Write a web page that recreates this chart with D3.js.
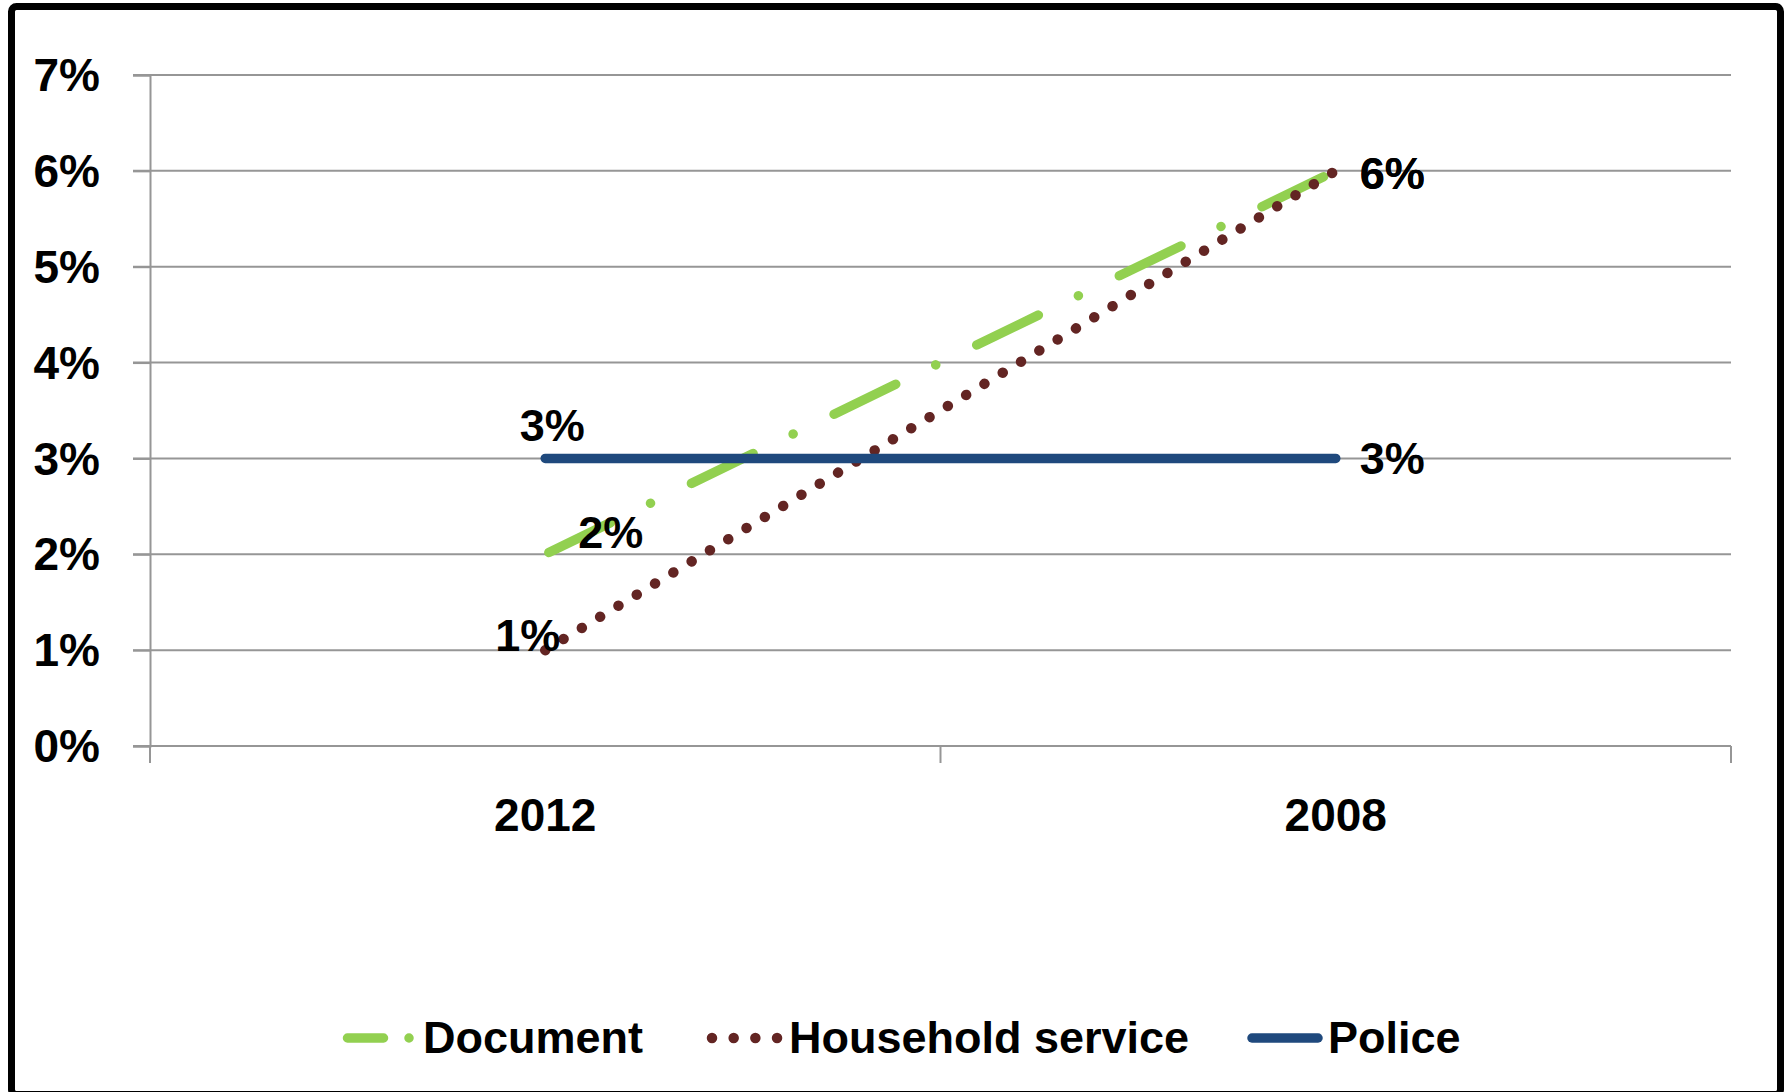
<!DOCTYPE html>
<html>
<head>
<meta charset="utf-8">
<script src="https://cdn.jsdelivr.net/npm/d3@7"></script>
<style>
  html, body { margin: 0; padding: 0; background: #ffffff; }
  svg { display: block; }
  text { font-family: "Liberation Sans", Arial, sans-serif; font-weight: bold; fill: #000; }
</style>
</head>
<body>
<svg id="chart" width="1791" height="1092"></svg>
<script>
// Survey years shown on the category axis
const categories = ["2012", "2008"];

// Share of respondents per service, one value per year
const documentValues  = [0.02, 0.06];
const householdValues = [0.01, 0.06];
const policeValues    = [0.03, 0.03];

const seriesNames = ["Document", "Household service", "Police"];

// Value axis ticks
const yTicks = [0, 0.01, 0.02, 0.03, 0.04, 0.05, 0.06, 0.07];

const W = 1791, H = 1092;
const plot = { left: 150, right: 1731, top: 75, bottom: 746 };

const svg = d3.select("#chart");

// Outer frame
svg.append("rect")
  .attr("x", 11.5).attr("y", 6.5)
  .attr("width", 1769).attr("height", 1088)
  .attr("rx", 5).attr("ry", 5)
  .attr("fill", "#ffffff")
  .attr("stroke", "#000000")
  .attr("stroke-width", 7);

const x = d3.scaleBand().domain(categories).range([plot.left, plot.right]).paddingInner(0).paddingOuter(0);
const xc = c => x(c) + x.bandwidth() / 2;
const y = d3.scaleLinear().domain([0, 0.07]).range([plot.bottom, plot.top]);

const gridColor = "#969696";

// Horizontal gridlines
svg.append("g").selectAll("line").data(yTicks).join("line")
  .attr("x1", plot.left - 17).attr("x2", plot.right)
  .attr("y1", d => y(d)).attr("y2", d => y(d))
  .attr("stroke", gridColor).attr("stroke-width", 2);

// Value axis
const yAxis = svg.append("g")
  .attr("transform", `translate(${plot.left},0)`)
  .call(d3.axisLeft(y).tickValues(yTicks).tickFormat(d3.format(".0%")).tickSize(17).tickPadding(33));
yAxis.select(".domain").attr("stroke", gridColor).attr("stroke-width", 2);
yAxis.selectAll(".tick line").attr("stroke", gridColor).attr("stroke-width", 2);
yAxis.selectAll("text")
  .style("font-family", "'Liberation Sans', Arial, sans-serif")
  .style("font-weight", "bold")
  .style("font-size", "46px")
  .attr("fill", "#000")
  .attr("dy", "0.34em");

// Category axis: labels centred in each band, tick marks on band edges
const xAxis = svg.append("g")
  .attr("transform", `translate(0,${plot.bottom})`)
  .call(d3.axisBottom(x).tickSize(0).tickPadding(52));
xAxis.select(".domain").remove();
xAxis.selectAll("text")
  .style("font-family", "'Liberation Sans', Arial, sans-serif")
  .style("font-weight", "bold")
  .style("font-size", "46px")
  .attr("fill", "#000");

const bandEdges = [x(categories[0])].concat(categories.map(c => x(c) + x.bandwidth()));
svg.append("g").selectAll("line").data(bandEdges).join("line")
  .attr("x1", d => d).attr("x2", d => d)
  .attr("y1", plot.bottom).attr("y2", plot.bottom + 17)
  .attr("stroke", gridColor).attr("stroke-width", 2);

// Series definitions
const series = [
  { name: seriesNames[0], values: documentValues,  color: "#92D050", width: 9.5,
    dash: "68.5 44.5 0.01 45.5", offset: -4 },
  { name: seriesNames[1], values: householdValues, color: "#632523", width: 10.5,
    dash: "0.01 21.39", offset: 0 },
  { name: seriesNames[2], values: policeValues,    color: "#1F497D", width: 9.5,
    dash: null, offset: 0 }
];

const line = d3.line().x(d => xc(d.c)).y(d => y(d.v));

svg.append("g").selectAll("path").data(series).join("path")
  .attr("d", s => line(s.values.map((v, i) => ({ c: categories[i], v }))))
  .attr("fill", "none")
  .attr("stroke", s => s.color)
  .attr("stroke-width", s => s.width)
  .attr("stroke-linecap", "round")
  .attr("stroke-dasharray", s => s.dash)
  .attr("stroke-dashoffset", s => s.offset);

// Data labels (offsets relative to each point)
const labels = [
  { s: 2, i: 0, dx: 7,   dy: -17, anchor: "middle" },
  { s: 2, i: 1, dx: 24,  dy: 16,  anchor: "start" },
  { s: 0, i: 0, dx: 33,  dy: -6,  anchor: "start" },
  { s: 0, i: 1, dx: 24,  dy: 18,  anchor: "start" },
  { s: 1, i: 0, dx: -50, dy: 1,   anchor: "start" },
  { s: 1, i: 1, dx: 24,  dy: 18,  anchor: "start" }
];
const pct = d3.format(".0%");
svg.append("g").selectAll("text").data(labels).join("text")
  .attr("x", d => xc(categories[d.i]) + d.dx)
  .attr("y", d => y(series[d.s].values[d.i]) + d.dy)
  .attr("text-anchor", d => d.anchor)
  .style("font-size", "45px")
  .text(d => pct(series[d.s].values[d.i]));

// Legend
const legendY = 1038;
const legend = [
  { s: 0, x1: 347.5, x2: 411, dash: "36 25.5 0.01 100", textX: 423 },
  { s: 1, x1: 712,   x2: 779, dash: "0.01 21.67",       textX: 789 },
  { s: 2, x1: 1252,  x2: 1318, dash: null,              textX: 1328 }
];
const lg = svg.append("g");
lg.selectAll("line").data(legend).join("line")
  .attr("x1", d => d.x1).attr("x2", d => d.x2)
  .attr("y1", legendY).attr("y2", legendY)
  .attr("stroke", d => series[d.s].color)
  .attr("stroke-width", d => series[d.s].width)
  .attr("stroke-linecap", "round")
  .attr("stroke-dasharray", d => d.dash);
lg.selectAll("text").data(legend).join("text")
  .attr("x", d => d.textX)
  .attr("y", 1053)
  .style("font-size", "45px")
  .text(d => series[d.s].name);
</script>
</body>
</html>
